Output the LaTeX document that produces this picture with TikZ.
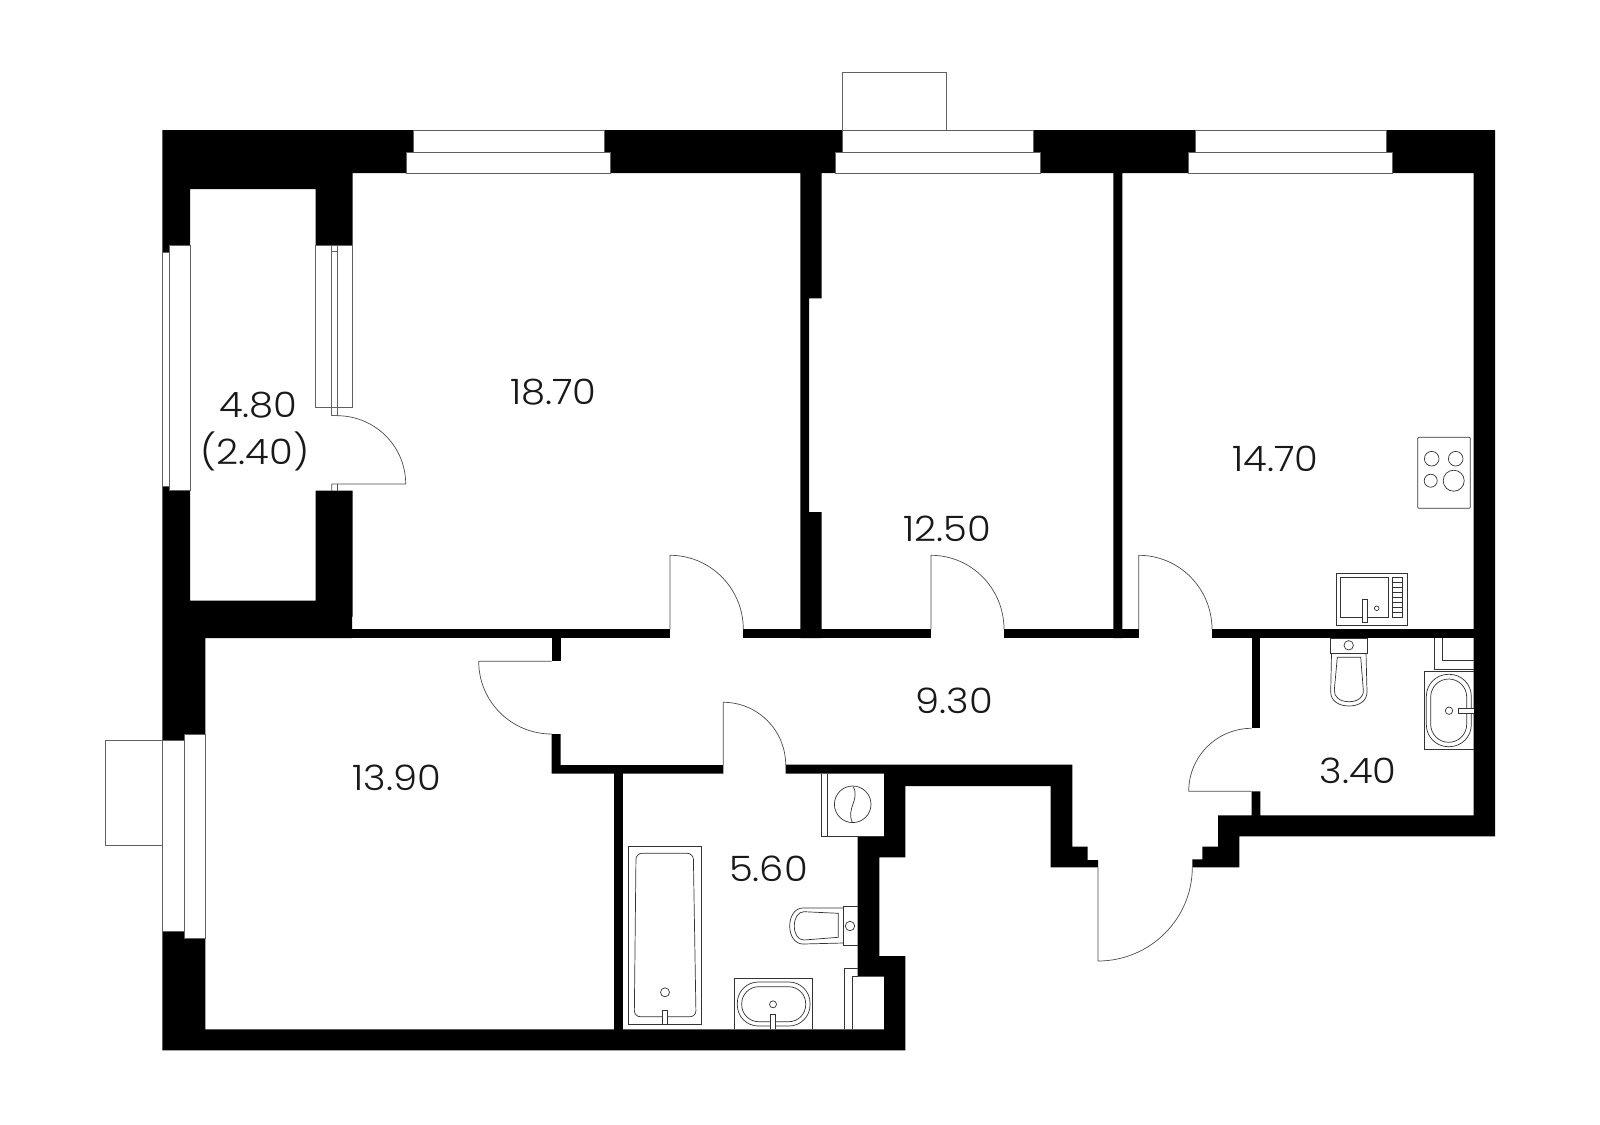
\documentclass[tikz,border=0pt]{standalone}
\usepackage{fontspec}
\newfontfamily\lblfont[FakeStretch=1.1]{Poppins Light}
\tikzset{
  wallfill/.style={fill=black,draw=none},
  thin line/.style={draw=black!62,line width=0.8pt,fill=none},
  hair/.style={draw=black!70,line width=0.7pt,fill=none,line join=round},
  fixture/.style={draw=black!80,line width=0.7pt,fill=none},
  area/.style={font=\lblfont\fontsize{35}{40}\selectfont,text=black!90,inner sep=0pt,anchor=center}
}
\begin{document}
\begin{tikzpicture}[x=1pt,y=-1pt]
\useasboundingbox (0,0) rectangle (1600,1124);
\fill[white] (0,0) rectangle (1600,1124);
% --- walls
\fill[wallfill] (162.3,130)--(413.3,130)--(413.3,152)--(406.7,152)--(406.7,173.2)--(352.7,173.2)--(352.7,245.7)--(315.7,245.7)--(315.7,189)--(190,189)--(190,245.7)--(169.3,245.7)--(169.3,252.3)--(162.3,252.3)--cycle;
\fill[wallfill] (162.3,486.7)--(169.3,486.7)--(169.3,490.7)--(190,490.7)--(190,600.7)--(315.7,600.7)--(315.7,490.7)--(352.7,490.7)--(352.7,616.7)--(352,616.7)--(352,638)--(205.3,638)--(205.3,734)--(184.3,734)--(184.3,740.7)--(162.3,740.7)--cycle;
\fill[wallfill] (162.3,931.7)--(184.3,931.7)--(184.3,938.7)--(205.3,938.7)--(205.3,1029.3)--(884,1029.3)--(884,976.7)--(857.7,976.7)--(857.7,836)--(884,836)--(884,773.5)--(785.7,773.5)--(785.7,764.7)--(1072.3,764.7)--(1072.3,846.7)--(1087.7,846.7)--(1087.7,860)--(1098,860)--(1098,867.3)--(1050.7,867.3)--(1050.7,786)--(905.3,786)--(905.3,857.3)--(879.3,857.3)--(879.3,956)--(905.3,956)--(905.3,1050.3)--(162.3,1050.3)--cycle;
\fill[wallfill] (604,130)--(842.3,130)--(842.3,152)--(835.7,152)--(835.7,173.2)--(821.7,173.2)--(821.7,298.3)--(809,298.3)--(809,512)--(821.7,512)--(821.7,638)--(800.3,638)--(800.3,173.2)--(610.7,173.2)--(610.7,152)--(604,152)--cycle;
\fill[wallfill] (1033.3,130)--(1195.3,130)--(1195.3,152)--(1188.7,152)--(1188.7,173.2)--(1122.3,173.2)--(1122.3,638)--(1113.3,638)--(1113.3,173.2)--(1040,173.2)--(1040,152)--(1033.3,152)--cycle;
\fill[wallfill] (1386,130)--(1495,130)--(1495,836.3)--(1239.3,836.3)--(1239.3,867.3)--(1192.3,867.3)--(1192.3,859.3)--(1202.3,859.3)--(1202.3,846.7)--(1218,846.7)--(1218,815.3)--(1251.7,815.3)--(1251.7,791.3)--(1260.3,791.3)--(1260.3,815.3)--(1473.7,815.3)--(1473.7,173.2)--(1392.7,173.2)--(1392.7,152)--(1386,152)--cycle;
\fill[wallfill] (352,629.3) rectangle (670,638);
\fill[wallfill] (743.3,629.3) rectangle (931,638);
\fill[wallfill] (1004,629.3) rectangle (1138.7,638);
\fill[wallfill] (1212,629.3) rectangle (1473.8,638);
\fill[wallfill] (551.7,637) rectangle (560.7,661.3);
\fill[wallfill] (551.7,734)--(560.7,734)--(560.7,765)--(723.3,765)--(723.3,773.7)--(551.7,773.7)--cycle;
\fill[wallfill] (614.3,773) rectangle (623.3,1030);
\fill[wallfill] (1251.7,637) rectangle (1260.3,728.3);
% --- windows
\foreach \ax/\bx/\cx/\dx in {413.3/604/406.7/610.7, 842.3/1033.3/835.7/1040, 1195.3/1386/1188.7/1392.7}{
  \draw[thin line] (\ax,130) rectangle (\bx,152);
  \draw[thin line] (\cx,152) rectangle (\dx,173.2);
}
\draw[thin line] (842.3,72.7) rectangle (946.7,130);
\draw[thin line] (162.3,252.3) rectangle (169.3,486.7);
\draw[thin line] (169.3,245.7) rectangle (190,490.7);
\draw[thin line] (315.7,245.7) rectangle (352.7,407.3);
\draw[thin line] (331.7,245.7) rectangle (337,415.7);
\draw[thin line] (331.7,251.7) -- (337,251.7);
\draw[thin line] (331.7,407.3) -- (337,407.3);
\draw[thin line] (162.3,740.7) rectangle (184.3,931.7);
\draw[thin line] (184.3,734) rectangle (205.3,938.7);
\draw[thin line] (105,740.7) rectangle (162.3,845.3);
% --- doors
\draw[hair] (331.7,490.7) -- (331.7,484) -- (405.7,484) .. controls (405.7,446.2) and (375,415.7) .. (337,415.7);
\draw[hair] (337,484) -- (337,490.7);
\draw[hair] (670,629.3) -- (670,555.3) .. controls (710.5,555.3) and (743.3,588.4) .. (743.3,629.3);
\draw[hair] (931,629.3) -- (931,555.3) .. controls (971.4,555.3) and (1004,588.4) .. (1004,629.3);
\draw[hair] (1138.7,629.3) -- (1138.7,555.3) .. controls (1179.2,555.3) and (1212,588.4) .. (1212,629.3);
\draw[hair] (551.7,661.3) -- (478.7,661.3) .. controls (478.7,701.6) and (511.4,734) .. (551.7,734);
\draw[hair] (723.3,765) -- (723.3,702.3) .. controls (757.8,702.3) and (785.7,730.4) .. (785.7,765);
\draw[hair] (1251.7,791.3) -- (1188.7,791.3) .. controls (1188.7,756.5) and (1216.9,728.3) .. (1251.7,728.3);
\draw[hair] (1098,867.3) -- (1098,961) .. controls (1150,961) and (1192.3,919) .. (1192.3,867.3);
% --- stove
\draw[fixture,rounded corners=1pt] (1417.7,437.3) rectangle (1470.3,508.3);
\draw[fixture] (1431.7,458.7) circle[radius=7.3];
\draw[fixture] (1455.7,458.7) circle[radius=7.3];
\draw[fixture] (1430.7,480.7) circle[radius=6.5];
\draw[fixture] (1453.7,480.7) circle[radius=10.5];
% --- kitchen sink
\draw[fixture] (1336.3,573) rectangle (1407,625.3);
\draw[fixture] (1340.3,577) rectangle (1388.7,617.7);
\draw[fixture] (1392.7,577) rectangle (1402.7,617.7);
\foreach \yy in {582,587,592,597,602,607,612}{\draw[fixture] (1392.7,\yy) -- (1402.7,\yy);}
\draw[fixture,fill=white] (1362.3,599.3) rectangle (1367,622);
\draw[fixture] (1376.7,608.3) circle[radius=2.3];
% --- toilet, small bathroom
\draw[fixture] (1330,638) rectangle (1367.7,653.3);
\draw[fixture] (1348.7,645.3) circle[radius=4.7];
\draw[fixture] (1331.5,653.3) -- (1330.7,692) .. controls (1330.7,701) and (1339,706) .. (1349,706) .. controls (1359,706) and (1367,701) .. (1367,692) -- (1366,653.3);
\draw[fixture] (1337.3,657.3) -- (1360.7,657.3) -- (1363.3,690) .. controls (1364,697) and (1358,701.7) .. (1349,701.7) .. controls (1340,701.7) and (1333.8,697) .. (1334.3,690) -- cycle;
% --- small bathroom wash basin and niche
\draw[fixture] (1434.7,638) -- (1434.7,669) -- (1473.7,669);
\draw[fixture] (1442.7,638) -- (1442.7,660.7) -- (1473.7,660.7);
\draw[fixture] (1473.7,671.3) -- (1424,671.3) -- (1424,749.3) -- (1473.7,749.3);
\draw[fixture,rounded corners=22pt] (1426.3,674.3) rectangle (1471.3,746.7);
\draw[fixture,rounded corners=18pt] (1430.7,679) rectangle (1466.7,742.3);
\draw[fixture] (1449,710.7) circle[radius=3.7];
\draw[fixture,fill=white] (1473.7,708) -- (1458.3,708) -- (1458.3,713) -- (1473.7,713);
% --- washing machine
\draw[fixture] (821.3,773.5) -- (821.3,836) -- (857.7,836);
\draw[fixture] (827,773.5) -- (827,836);
\draw[fixture] (857.7,836) -- (884,836);
\draw[fixture] (852.7,804.3) circle[radius=18.3];
\draw[fixture] (853.3,786.7) .. controls (860,800) and (846,808) .. (852.3,822.3);
% --- bath tub
\draw[fixture] (628.3,846.3) rectangle (701.7,1024.3);
\draw[fixture,rounded corners=6pt] (636,853.3) -- (693.3,853.3) -- (696,1016.7) -- (634.3,1016.7) -- cycle;
\draw[fixture] (665,992.3) circle[radius=4.5];
\draw[fixture,fill=white] (662.3,1024.3) -- (662.3,1010) -- (667.7,1010) -- (667.7,1024.3);
% --- large bathroom wash basin
\draw[fixture] (734.7,1029.3) -- (734.7,978.7) -- (812.3,978.7) -- (812.3,1029.3);
\draw[fixture,rounded corners=21pt] (737.3,982) rectangle (810,1026);
\draw[fixture,rounded corners=17pt] (741.7,986.7) rectangle (805.7,1021.7);
\draw[fixture] (773,1004.3) circle[radius=3.5];
\draw[fixture,fill=white] (770.7,1029.3) -- (770.7,1014) -- (775.7,1014) -- (775.7,1029.3);
% --- toilet
\draw[fixture] (857.7,906.7) -- (843.3,906.7) -- (843.3,945) -- (857.7,945);
\draw[fixture] (850,926) circle[radius=4.7];
\draw[fixture] (843.3,908) -- (803,908) .. controls (795,908) and (789.7,916) .. (789.7,926) .. controls (789.7,936) and (795,944) .. (803,944) -- (843.3,943);
\draw[fixture] (838.3,913.3) -- (804,911.7) .. controls (798,911.7) and (794.3,918) .. (794.3,926) .. controls (794.3,934) and (798,940) .. (804,940) -- (838.3,937.3) -- cycle;
% --- shaft
\draw[fixture] (844.3,1029.3) -- (844.3,968.7) -- (857.7,968.7);
\draw[fixture] (852.3,1029.3) -- (852.3,976.7) -- (857.7,976.7);
% --- areas
\node[area] (a1) at (553.3,392.3) {18.70};
\node[area] (a2) at (258.3,405.5) {4.80};
\node[area] (a3) at (255,451.7) {(2.40)};
\node[area] (a4) at (396.8,778.2) {13.90};
\node[area] (a5) at (1275.5,458.8) {14.70};
\node[area] (a6) at (947,529) {12.50};
\node[area] (a7) at (954.3,701) {9.30};
\node[area] (a8) at (1358.2,771.2) {3.40};
\node[area] (a9) at (768.5,868.6) {5.60};
\end{tikzpicture}
\end{document}
